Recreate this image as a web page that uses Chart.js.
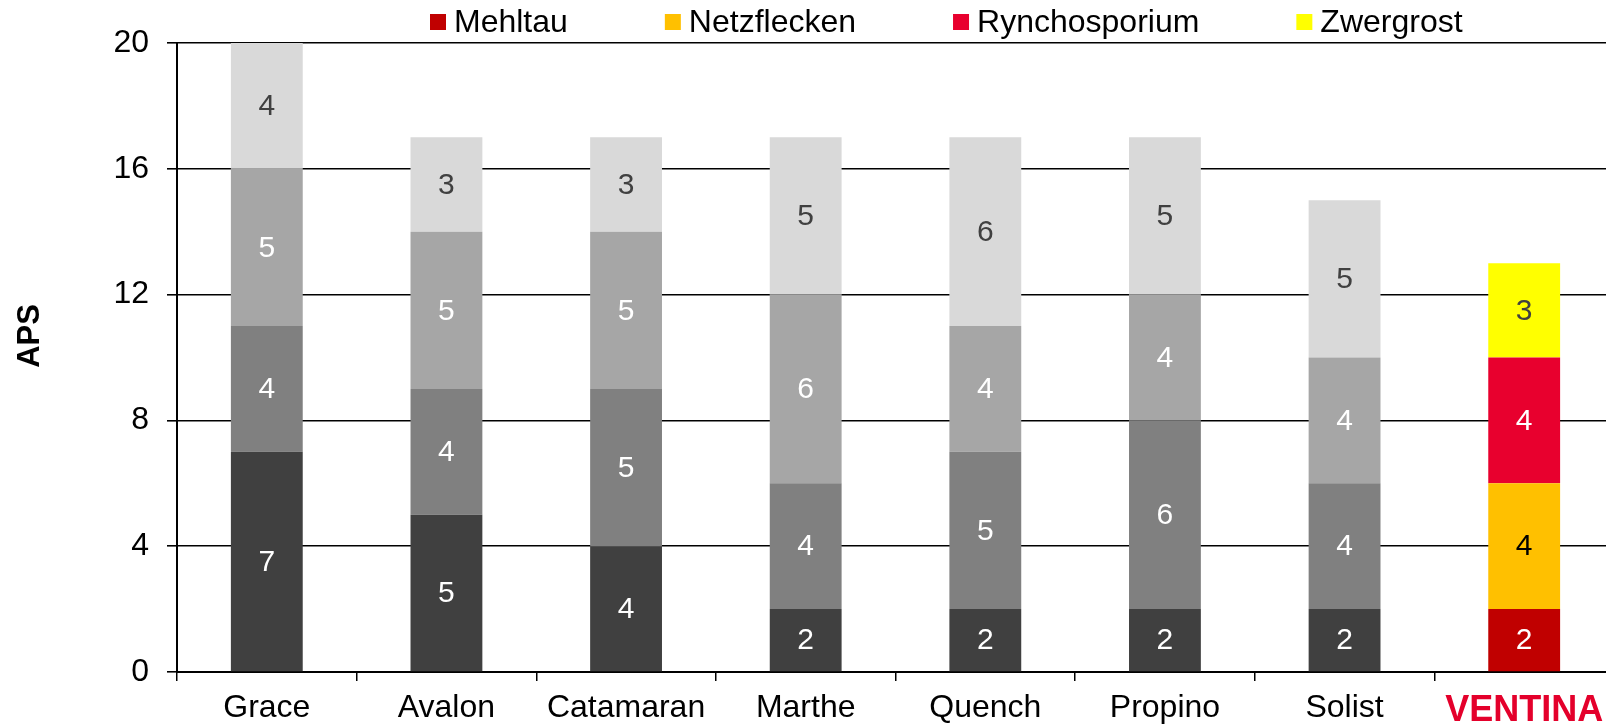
<!DOCTYPE html>
<html lang="de">
<head>
  <meta charset="UTF-8" />
  <title>APS</title>
  <script src="https://cdn.jsdelivr.net/npm/chart.js"></script>
  <style>
    body {
      margin: 0;
      padding: 0;
      background: #fff;
    }
    #wrap {
      width: 1606px;
      height: 727px;
      overflow: hidden;
    }
  </style>
</head>
<body>
  <div id="wrap">
    <canvas id="apsChart" width="1630" height="727" style="width:1630px;height:727px"></canvas>
  </div>

  <script>
    const categories = ['Grace', 'Avalon', 'Catamaran', 'Marthe', 'Quench', 'Propino', 'Solist', 'VENTINA'];
    const seriesNames = ['Mehltau', 'Netzflecken', 'Rynchosporium', 'Zwergrost'];
    const mehltau = [7, 5, 4, 2, 2, 2, 2, 2];
    const netzflecken = [4, 4, 5, 4, 5, 6, 4, 4];
    const rynchosporium = [5, 5, 5, 6, 4, 4, 4, 4];
    const zwergrost = [4, 3, 3, 5, 6, 5, 5, 3];
    const yTicks = [0, 4, 8, 12, 16, 20];

    const greyColors = ['#404040', '#808080', '#a6a6a6', '#d9d9d9'];
    const highlightColors = ['#c00000', '#ffc000', '#e8002e', '#ffff00'];
    const greyLabelColors = ['#ffffff', '#ffffff', '#ffffff', '#404040'];
    const highlightLabelColors = ['#ffffff', '#000000', '#ffffff', '#404040'];
    const highlightIndex = categories.indexOf('VENTINA');
    const FONT = "'Liberation Sans', Arial, sans-serif";

    const values = [mehltau, netzflecken, rynchosporium, zwergrost];

    // values in the middle of each segment
    const segmentLabels = {
      id: 'segmentLabels',
      afterDatasetsDraw(chart) {
        const c = chart.ctx;
        c.save();
        c.font = '30px ' + FONT;
        c.textAlign = 'center';
        c.textBaseline = 'middle';
        chart.data.datasets.forEach((ds, di) => {
          chart.getDatasetMeta(di).data.forEach((bar, i) => {
            const hi = i === highlightIndex;
            c.fillStyle = hi ? highlightLabelColors[di] : greyLabelColors[di];
            c.fillText(String(ds.data[i]), bar.x, (bar.y + bar.base) / 2 + 1);
          });
        });
        c.restore();
      }
    };

    // legend row + rotated axis title
    const extras = {
      id: 'extras',
      afterDraw(chart) {
        const c = chart.ctx;
        c.save();
        c.font = '32px ' + FONT;
        c.textBaseline = 'middle';
        c.textAlign = 'left';
        let x = 430;
        seriesNames.forEach((name, i) => {
          c.fillStyle = highlightColors[i];
          c.fillRect(x, 14, 16, 16);
          c.fillStyle = '#000';
          c.fillText(name, x + 24, 23);
          x += 24 + c.measureText(name).width + 97;
        });
        c.font = 'bold 31px ' + FONT;
        c.translate(30, 336);
        c.rotate(-Math.PI / 2);
        c.textAlign = 'center';
        c.fillText('APS', 0, 0);
        c.restore();
      }
    };

    const ctx = document.getElementById('apsChart').getContext('2d');

    new Chart(ctx, {
      type: 'bar',
      data: {
        labels: categories,
        datasets: values.map((vals, di) => ({
          label: seriesNames[di],
          data: vals,
          backgroundColor: (c) => c.dataIndex === highlightIndex ? highlightColors[di] : greyColors[di],
          borderWidth: 0,
          barPercentage: 0.4,
          categoryPercentage: 1
        }))
      },
      options: {
        responsive: false,
        animation: false,
        layout: { padding: { top: 43, right: 16, left: 0, bottom: 0 } },
        plugins: {
          legend: { display: false },
          tooltip: { enabled: false }
        },
        scales: {
          x: {
            stacked: true,
            afterFit: (s) => { s.height = 55; },
            border: { color: '#000', width: 2 },
            grid: {
              offset: true,
              drawOnChartArea: false,
              drawTicks: true,
              tickLength: 9,
              color: '#000',
              lineWidth: 1.5
            },
            ticks: {
              padding: 8,
              color: (c) => c.index === highlightIndex ? '#e4002b' : '#000',
              font: (c) => c.index === highlightIndex
                ? { family: FONT, size: 36, weight: 'bold' }
                : { family: FONT, size: 32, weight: 'normal' }
            }
          },
          y: {
            stacked: true,
            min: yTicks[0],
            max: yTicks[yTicks.length - 1],
            afterFit: (s) => { s.width = 177; },
            afterBuildTicks: (s) => { s.ticks = yTicks.map(v => ({ value: v })); },
            border: { color: '#000', width: 2 },
            grid: {
              color: '#000',
              lineWidth: 1.6,
              drawTicks: true,
              tickLength: 10,
              tickColor: '#000'
            },
            ticks: {
              padding: 18,
              color: '#000',
              font: { family: FONT, size: 32 }
            }
          }
        }
      },
      plugins: [segmentLabels, extras]
    });
  </script>
</body>
</html>
